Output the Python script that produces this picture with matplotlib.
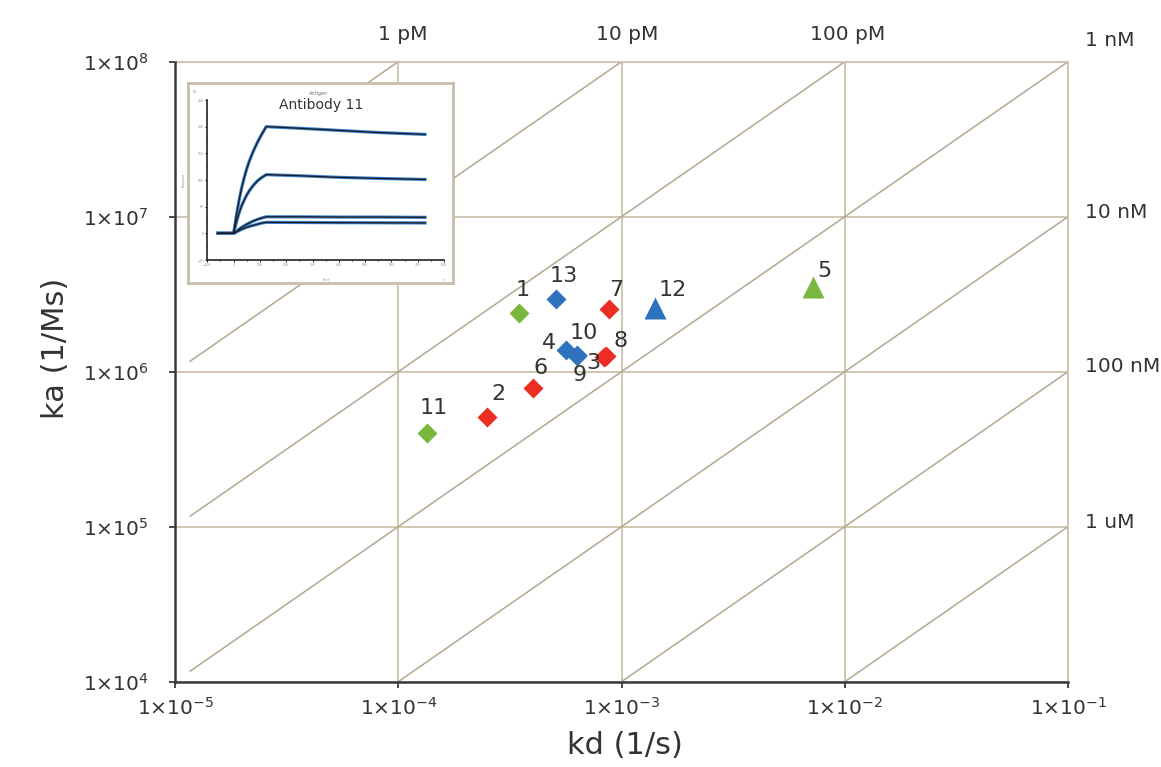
import matplotlib
matplotlib.use('Agg')
import matplotlib.pyplot as plt
from matplotlib.ticker import FixedLocator, NullLocator, MultipleLocator

plt.rcParams['font.family'] = ['DejaVu Sans']
plt.rcParams['mathtext.fontset'] = 'dejavusans'

# ---------------- data ----------------
point_labels = ['1', '2', '3', '4', '5', '6', '7', '8', '9', '10', '11', '12', '13']
kd_values = [3.48e-4, 2.49e-4, 8.38e-4, 5.67e-4, 7.18e-3, 4.03e-4, 8.81e-4,
             8.50e-4, 6.35e-4, 6.29e-4, 1.35e-4, 1.42e-3, 5.09e-4]
ka_values = [2.40e6, 5.13e5, 1.25e6, 1.38e6, 3.50e6, 7.81e5, 2.54e6,
             1.27e6, 1.26e6, 1.28e6, 4.04e5, 2.59e6, 2.93e6]
point_group = ['green', 'red', 'red', 'blue', 'green', 'red', 'red',
               'red', 'blue', 'blue', 'green', 'blue', 'blue']
point_shape = ['D', 'D', 'D', 'D', '^', 'D', 'D', 'D', 'D', 'D', 'D', '^', 'D']

x_ticks = [1e-5, 1e-4, 1e-3, 1e-2, 1e-1]
x_tick_labels = [r'$1{\times}10^{-5}$', r'$1{\times}10^{-4}$', r'$1{\times}10^{-3}$',
                 r'$1{\times}10^{-2}$', r'$1{\times}10^{-1}$']
y_ticks = [1e4, 1e5, 1e6, 1e7, 1e8]
y_tick_labels = [r'$1{\times}10^{4}$', r'$1{\times}10^{5}$', r'$1{\times}10^{6}$',
                 r'$1{\times}10^{7}$', r'$1{\times}10^{8}$']

# iso-affinity lines (KD = kd / ka, in M)
KD_lines = [1e-12, 1e-11, 1e-10, 1e-9, 1e-8, 1e-7, 1e-6]
KD_top_labels = ['1 pM', '10 pM', '100 pM']
KD_right_labels = ['1 nM', '10 nM', '100 nM', '1 uM']

# inset sensorgram (Antibody 11)
sg_time = [-60, 0, 10, 20, 30, 40, 50, 60, 75, 90, 105, 124, 250, 400, 550, 728]
sg_resp1 = [0, 0, 32, 60, 84, 104, 121, 136, 154, 170, 184, 200, 197, 193, 189, 185.5]
sg_resp2 = [0, 0, 20, 37, 51, 62, 72, 80, 90, 98, 104, 110, 108, 105, 103, 101]
sg_resp3 = [0, 0, 3, 7.5, 11, 14, 17, 19.5, 23, 26, 28.5, 31, 31, 30.5, 30.5, 30]
sg_resp4 = [0, 0, 2.5, 5, 7.5, 9.5, 11.5, 13, 15, 17, 19, 20.6, 20.3, 20, 19.8, 19.5]

# ---------------- style ----------------
colors = {'green': '#7AB73E', 'red': '#EB2D23', 'blue': '#2E72BE'}
grid_c = '#CCC2AE'
diag_c = '#B3A78F'
text_c = '#333333'
axis_c = '#3A3A3A'

W, H = 1161, 767
fig = plt.figure(figsize=(W / 100, H / 100), dpi=100)
fig.patch.set_facecolor('white')

L, R, T, B = 175, 1068, 61.7, 681.7
ax = fig.add_axes([L / W, 1 - B / H, (R - L) / W, (B - T) / H])
ax.set_xscale('log')
ax.set_yscale('log')
ax.set_xlim(1e-5, 1e-1)
ax.set_ylim(1e4, 1e8)

ax.xaxis.set_major_locator(FixedLocator(x_ticks))
ax.yaxis.set_major_locator(FixedLocator(y_ticks))
ax.xaxis.set_minor_locator(NullLocator())
ax.yaxis.set_minor_locator(NullLocator())
ax.set_xticklabels(x_tick_labels)
ax.set_yticklabels(y_tick_labels)
ax.tick_params(axis='both', which='major', direction='out', length=4,
               width=1.3, color=axis_c, labelsize=14.5, labelcolor=text_c)
ax.tick_params(axis='x', pad=7)
ax.tick_params(axis='y', pad=15)

ax.grid(True, which='major', color=grid_c, lw=1.3)
ax.set_axisbelow(True)
for s in ['left', 'bottom']:
    ax.spines[s].set_color(axis_c)
    ax.spines[s].set_linewidth(1.8)
    ax.spines[s].set_zorder(3)
for s in ['top', 'right']:
    ax.spines[s].set_color(grid_c)
    ax.spines[s].set_linewidth(1.3)

# iso-affinity diagonal lines
for KD in KD_lines:
    k0 = max(1.17e-5, KD * 1e4)
    k1 = min(1e-1, KD * 1e8)
    ax.plot([k0, k1], [k0 / KD, k1 / KD], color=diag_c, lw=1.1, zorder=1)

# points
for lab, x, y, g, m in zip(point_labels, kd_values, ka_values, point_group, point_shape):
    ms = 10.5 if m == 'D' else 16
    ax.plot([x], [y], marker=m, ms=ms, color=colors[g], mec='none',
            ls='none', zorder=4)

label_offsets = {'1': (3, 23), '2': (12, 23), '3': (-11, -6), '4': (-17, 7),
                 '5': (12, 16), '6': (7, 20), '7': (7, 19), '8': (15, 15),
                 '9': (2, -19), '10': (7, 22), '11': (6, 25), '12': (17, 18),
                 '13': (8, 23)}
for lab, x, y in zip(point_labels, kd_values, ka_values):
    dx, dy = label_offsets[lab]
    ax.annotate(lab, (x, y), xytext=(dx, dy), textcoords='offset pixels',
                ha='center', va='center', fontsize=16, color=text_c, zorder=5)

# KD labels
top_x = [403, 627, 848]
for lab, px in zip(KD_top_labels, top_x):
    fig.text(px / W, 1 - 34 / H, lab, ha='center', va='center',
             fontsize=14.5, color=text_c)
right_y = [40, 213, 366, 523]
for lab, py in zip(KD_right_labels, right_y):
    fig.text(1085 / W, 1 - py / H, lab, ha='left', va='center',
             fontsize=14.5, color=text_c)

# axis labels
fig.text(55 / W, 1 - 348 / H, 'ka (1/Ms)', rotation=90, ha='center',
         va='center', fontsize=22, color=text_c)
fig.text(625 / W, 1 - 746 / H, 'kd (1/s)', ha='center', va='center',
         fontsize=22, color=text_c)

# ---------------- inset ----------------
fx0, fy0, fx1, fy1 = 188.3, 83.3, 452.7, 283.3
frame = fig.add_axes([fx0 / W, 1 - fy1 / H, (fx1 - fx0) / W, (fy1 - fy0) / H])
frame.set_zorder(5)
frame.set_facecolor('white')
frame.set_xticks([])
frame.set_yticks([])
for s in frame.spines.values():
    s.set_color('#C8BDA8')
    s.set_linewidth(2)

ix0, iy0, ix1, iy1 = 207.3, 100, 444, 260
ins = fig.add_axes([ix0 / W, 1 - iy1 / H, (ix1 - ix0) / W, (iy1 - iy0) / H])
ins.set_zorder(6)
ins.set_facecolor('none')
ins.set_xlim(-100, 800)
ins.set_ylim(-50, 250)
ins.xaxis.set_major_locator(MultipleLocator(100))
ins.xaxis.set_minor_locator(MultipleLocator(50))
ins.yaxis.set_major_locator(MultipleLocator(50))
ins.yaxis.set_minor_locator(MultipleLocator(25))
ins.tick_params(which='both', direction='out', length=1.5, width=0.6,
                labelsize=2.2, labelcolor='#888888', pad=1)
ins.tick_params(which='minor', length=1)
for s in ['top', 'right']:
    ins.spines[s].set_visible(False)
for s in ['left', 'bottom']:
    ins.spines[s].set_color('#222222')
    ins.spines[s].set_linewidth(1.2)
for resp in [sg_resp1, sg_resp2, sg_resp3, sg_resp4]:
    ins.plot(sg_time, resp, color='#3A7FD0', lw=2.3, zorder=2)
    ins.plot(sg_time, resp, color='#1A1A1A', lw=0.9, zorder=3)
ins.text(-0.06, 1.04, 'RU', transform=ins.transAxes, fontsize=2.2,
         color='#888888', ha='left', va='bottom')
ins.text(-0.1, 0.5, 'Response', transform=ins.transAxes, fontsize=2.2,
         color='#888888', rotation=90, ha='center', va='center')
ins.text(0.5, -0.11, 'Time', transform=ins.transAxes, fontsize=2.2,
         color='#888888', ha='center', va='top')
ins.text(1.0, -0.11, 's', transform=ins.transAxes, fontsize=2.2,
         color='#888888', ha='right', va='top')
fig.text(319 / W, 1 - 93 / H, 'Antigen', ha='center', va='center',
         fontsize=3.5, color='#777777', zorder=10)
fig.text(320.7 / W, 1 - 105 / H, 'Antibody 11', ha='center', va='center',
         fontsize=10, color='#333333', zorder=10)

fig.savefig('out.png', dpi=100, facecolor='white')
